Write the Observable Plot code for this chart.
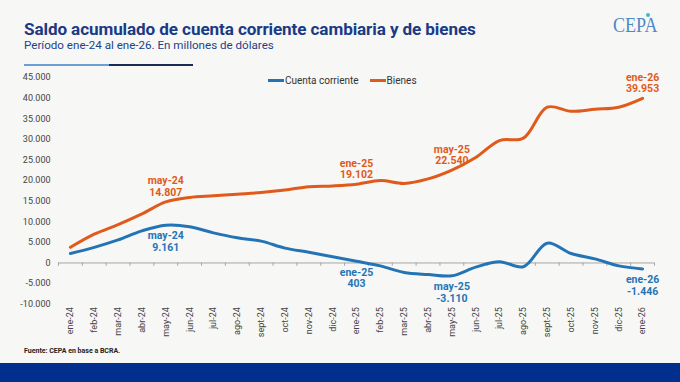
<!DOCTYPE html>
<html>
<head>
<meta charset="utf-8">
<script src="https://cdn.jsdelivr.net/npm/d3@7"></script>
<script src="https://cdn.jsdelivr.net/npm/@observablehq/plot@0.6"></script>
<style>
  html, body { margin: 0; padding: 0; }
  body { width: 680px; height: 382px; overflow: hidden; background: #f7f7f5; font-family: Roboto, "Noto Sans", sans-serif; }
  #wrap { position: relative; width: 680px; height: 382px; }
  #title { position: absolute; left: 24px; top: 19px; font-size: 17.1px; font-weight: bold; color: #1b3a86; white-space: nowrap; letter-spacing: -0.1px; }
  #subtitle { position: absolute; left: 24px; top: 38px; font-size: 11.6px; color: #1e3f8c; white-space: nowrap; }
  #rule1 { position: absolute; left: 24px; top: 64px; width: 85px; height: 2px; background: #6c9fd6; }
  #rule2 { position: absolute; left: 109px; top: 64px; width: 84px; height: 2px; background: #1a2c55; }
  #logo { position: absolute; left: 613px; top: 13px; font-family: "Liberation Serif", "DejaVu Serif", serif; font-size: 21px; color: #4f88c6; transform: scaleX(0.86); transform-origin: left top; white-space: nowrap; }
  #dot { position: absolute; left: 646px; top: 13px; width: 4px; height: 4px; border-radius: 2px; background: #46b8c8; }
  #chart { position: absolute; left: 0; top: 60px; }
  #legend { position: absolute; left: 268px; top: 75px; font-size: 10px; color: #333; white-space: nowrap; display: flex; align-items: center; }
  .sw { display: inline-block; width: 16px; height: 3px; margin-right: 1px; }
  #source { position: absolute; left: 24px; top: 347px; font-size: 7px; font-weight: bold; color: #222; white-space: nowrap; }
  #band { position: absolute; left: 0; top: 363px; width: 680px; height: 19px; background: #022f8d; }
</style>
</head>
<body>
<div id="wrap">
  <div id="title">Saldo acumulado de cuenta corriente cambiaria y de bienes</div>
  <div id="subtitle">Período ene-24 al ene-26. En millones de dólares</div>
  <div id="rule1"></div><div id="rule2"></div>
  <div id="logo">CEPA</div>
  <div id="dot"></div>
  <div id="chart"></div>
  <div id="legend"></div>
  <div id="source">Fuente: CEPA en base a BCRA.</div>
  <div id="band"></div>
</div>
<script>
const categories = ["ene-24","feb-24","mar-24","abr-24","may-24","jun-24","jul-24","ago-24","sept-24","oct-24","nov-24","dic-24","ene-25","feb-25","mar-25","abr-25","may-25","jun-25","jul-25","ago-25","sept-25","oct-25","nov-25","dic-25","ene-26"];
const cuentaCorriente = [2300,3800,5600,7800,9161,8800,7300,6100,5300,3600,2600,1500,403,-700,-2300,-2800,-3110,-1000,300,-900,4800,2300,1000,-700,-1446];
const bienes = [3800,7000,9300,11900,14807,15900,16300,16700,17100,17700,18500,18700,19102,20000,19300,20400,22540,25600,29700,30300,37800,36800,37300,37800,39953];
const yTicks = [-10000,-5000,0,5000,10000,15000,20000,25000,30000,35000,40000,45000];
const annotated = [4,12,16,24];
const seriesNames = ["Cuenta corriente","Bienes"];

const blue = "#2474b5";
const orange = "#e05b1b";

const loc = d3.formatLocale({decimal: ",", thousands: ".", grouping: [3], currency: ["$",""], minus: "-"});
const fmt = loc.format(",d");

const idx = categories.map((c,i) => i);
const boundaries = categories.map((c,i) => i - 0.5).concat([categories.length - 0.5]);

const chart = Plot.plot({
  width: 680,
  height: 285,
  marginLeft: 58,
  marginRight: 26,
  marginTop: 17,
  marginBottom: 41.3,
  x: {type: "linear", domain: [-0.5, categories.length - 0.5], axis: null},
  y: {domain: [-10000, 45000], axis: null},
  style: {background: "transparent", fontFamily: "Roboto, sans-serif", overflow: "visible"},
  marks: [
    Plot.axisY({ticks: yTicks, tickSize: 0, tickPadding: 8, tickFormat: fmt, fontSize: 9, fill: "#444"}),
    Plot.ruleY([0], {stroke: "#a6a6a6", strokeWidth: 1}),
    Plot.ruleX(boundaries, {x: d => d, y1: 0, y2: -800, stroke: "#a6a6a6"}),
    Plot.axisX({ticks: idx, tickFormat: i => categories[i], tickRotate: -90, tickSize: 0, tickPadding: 3, fontSize: 9, fill: "#444"}),
    Plot.line(idx, {x: i => i, y: i => cuentaCorriente[i], curve: "catmull-rom", stroke: blue, strokeWidth: 3}),
    Plot.line(idx, {x: i => i, y: i => bienes[i], curve: "catmull-rom", stroke: orange, strokeWidth: 3}),
    Plot.text(annotated, {x: i => i, y: i => bienes[i], text: i => `${categories[i]}\n${fmt(bienes[i])}`, fill: orange, fontWeight: "bold", fontSize: 10.5, lineAnchor: "bottom", lineHeight: 1.1, dy: -6}),
    Plot.text(annotated, {x: i => i, y: i => cuentaCorriente[i], text: i => `${categories[i]}\n${fmt(cuentaCorriente[i])}`, fill: blue, fontWeight: "bold", fontSize: 10.5, lineAnchor: "top", lineHeight: 1.1, dy: 6})
  ]
});
document.getElementById("chart").appendChild(chart);

const legend = document.getElementById("legend");
[[seriesNames[0], blue], [seriesNames[1], orange]].forEach(([name, color], k) => {
  const sw = document.createElement("span");
  sw.className = "sw";
  sw.style.background = color;
  if (k > 0) sw.style.marginLeft = "11px";
  legend.appendChild(sw);
  const t = document.createElement("span");
  t.textContent = name;
  legend.appendChild(t);
});
</script>
</body>
</html>
